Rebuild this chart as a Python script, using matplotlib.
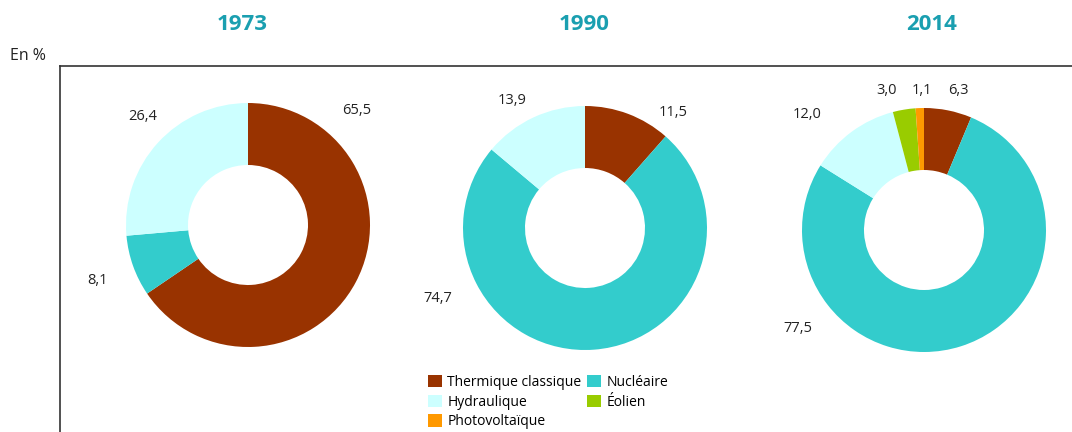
import matplotlib.pyplot as plt
from matplotlib.patches import Patch
from matplotlib.lines import Line2D

plt.rcParams['font.family'] = ['Open Sans', 'DejaVu Sans']

W, H = 1072, 432

years = ["1973", "1990", "2014"]
sources = ["Thermique classique", "Nucléaire", "Hydraulique", "Éolien", "Photovoltaïque"]
colors = ["#993300", "#33CCCC", "#CCFFFF", "#99CC00", "#FF9900"]

# shares in %, same order as sources (clockwise from top)
shares_1973 = [65.5, 8.1, 26.4, 0.0, 0.0]
shares_1990 = [11.5, 74.7, 13.9, 0.0, 0.0]
shares_2014 = [6.3, 77.5, 12.0, 3.0, 1.1]
all_shares = [shares_1973, shares_1990, shares_2014]

# layout in pixels (from the top-left corner)
centers = [(248, 225), (585, 228), (924, 230)]
title_x = [242, 584, 932]
label_pos = [
    [(357, 111), (98, 281), (143, 116), None, None],
    [(673, 112), (438, 298), (512, 101), None, None],
    [(958, 90), (798, 328), (807, 115), (887, 90), (922, 90)],
]
radius = 122
ring = 62

fig = plt.figure(figsize=(W / 100, H / 100), dpi=100)
ax = fig.add_axes([0, 0, 1, 1])

for shares, (cx, cy), labels in zip(all_shares, centers, label_pos):
    vals = [v for v in shares if v > 0]
    cols = [c for v, c in zip(shares, colors) if v > 0]
    ax.pie(vals, colors=cols, startangle=90, counterclock=False,
           center=(cx, H - cy), radius=radius,
           wedgeprops=dict(width=ring, linewidth=0))
    for v, pos in zip(shares, labels):
        if pos is None:
            continue
        ax.text(pos[0], H - pos[1], f"{v:.1f}".replace(".", ","),
                ha="center", va="center", fontsize=10.5, color="#222222")

ax.set_xlim(0, W)
ax.set_ylim(0, H)
ax.set_aspect("equal")
ax.axis("off")

for yr, tx in zip(years, title_x):
    fig.text(tx / W, 1 - 25 / H, yr, ha="center", va="center",
             fontsize=16, fontweight="bold", color="#1A9FB0")

fig.text(28 / W, 1 - 56 / H, "En %", ha="center", va="center", fontsize=11.5, color="#222222")

# frame lines
fig.add_artist(Line2D([60 / W, 1], [1 - 66 / H, 1 - 66 / H], color="#333333", lw=1.2))
fig.add_artist(Line2D([60 / W, 60 / W], [0, 1 - 66 / H], color="#333333", lw=1.2))

order = [0, 2, 4, 1, 3]
handles = [Patch(facecolor=colors[i], edgecolor="none", label=sources[i]) for i in order]
fig.legend(handles=handles, ncol=2, loc="upper left",
           bbox_to_anchor=(418 / W, 1 - 365 / H), frameon=False,
           fontsize=10, handlelength=1.0, handleheight=1.0, handletextpad=0.4,
           columnspacing=0.4, labelspacing=0.35, borderpad=0.2)

fig.savefig("out.png", dpi=100)
